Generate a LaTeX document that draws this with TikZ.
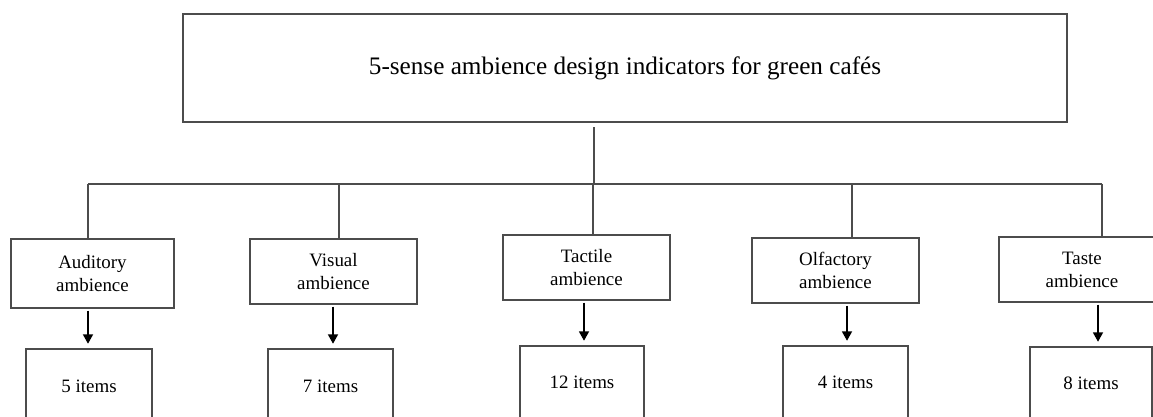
\documentclass[tikz,border=0pt]{standalone}
\usepackage{fontspec}
\setmainfont{Liberation Serif}
\usetikzlibrary{arrows.meta}
\def\u{0.75pt}
\tikzset{
  box/.style={draw=black!70, line width=0.9pt, inner sep=0pt, align=center, fill=white},
  subbox/.style={box, minimum width=166*\u, font=\fontsize{14.2}{17.3}\selectfont},
  itembox/.style={box, minimum width=125*\u, font=\fontsize{14.2}{17.3}\selectfont},
  conn/.style={draw=black!70, line width=0.9pt},
  arr/.style={draw=black, line width=1.1pt, -{Triangle[width=7.5pt,length=7pt]}, shorten <=1.5pt, shorten >=3.5pt}
}
\begin{document}
\begin{tikzpicture}[x=0.75pt,y=-0.75pt]
\clip (0,0) rectangle (1153,417);
\fill[white] (0,0) rectangle (1153,417);

% top node
\node[box, minimum width=884*\u, minimum height=108*\u, font=\fontsize{18.9}{22}\selectfont] (top) at (625,68) {5-sense ambience design indicators for green cafés};

% second level
\node[subbox, minimum width=163*\u, minimum height=69*\u] (aud) at (92.5,273.5) {Auditory\\ambience};
\node[subbox, minimum width=167*\u, minimum height=65*\u] (vis) at (333.5,271.5) {Visual\\ambience};
\node[subbox, minimum width=167*\u, minimum height=65*\u] (tac) at (586.5,267.5) {Tactile\\ambience};
\node[subbox, minimum width=167*\u, minimum height=65*\u] (olf) at (835.5,270.5) {Olfactory\\ambience};
\node[subbox, minimum width=166*\u, minimum height=65*\u] (tas) at (1082,269.5) {Taste\\ambience};

% item boxes
\node[itembox, minimum width=126*\u, minimum height=74*\u] (i1) at (89,386) {5 items};
\node[itembox, minimum width=125*\u, minimum height=74*\u] (i2) at (330.5,386) {7 items};
\node[itembox, minimum width=124*\u, minimum height=72*\u] (i3) at (582,382) {12 items};
\node[itembox, minimum width=125*\u, minimum height=72*\u] (i4) at (845.5,382) {4 items};
\node[itembox, minimum width=122*\u, minimum height=72*\u] (i5) at (1091,383) {8 items};

% bus coordinates
\coordinate (d0) at (594,184);
\coordinate (d1) at (88,184);
\coordinate (d2) at (339,184);
\coordinate (d3) at (593,184);
\coordinate (d4) at (852,184);
\coordinate (d5) at (1102,184);

\draw[conn, shorten <=3.5pt] (top.south -| d0) -- (d0);
\draw[conn] (d1) -- (d5);
\draw[conn] (d1) -- (d1 |- aud.north);
\draw[conn] (d2) -- (d2 |- vis.north);
\draw[conn] (d3) -- (d3 |- tac.north);
\draw[conn] (d4) -- (d4 |- olf.north);
\draw[conn] (d5) -- (d5 |- tas.north);

% arrow coordinates
\coordinate (a1) at (88,0);
\coordinate (a2) at (333,0);
\coordinate (a3) at (584,0);
\coordinate (a4) at (847,0);
\coordinate (a5) at (1098,0);

\draw[arr] (aud.south -| a1) -- (i1.north -| a1);
\draw[arr] (vis.south -| a2) -- (i2.north -| a2);
\draw[arr] (tac.south -| a3) -- (i3.north -| a3);
\draw[arr] (olf.south -| a4) -- (i4.north -| a4);
\draw[arr] (tas.south -| a5) -- (i5.north -| a5);
\end{tikzpicture}
\end{document}
